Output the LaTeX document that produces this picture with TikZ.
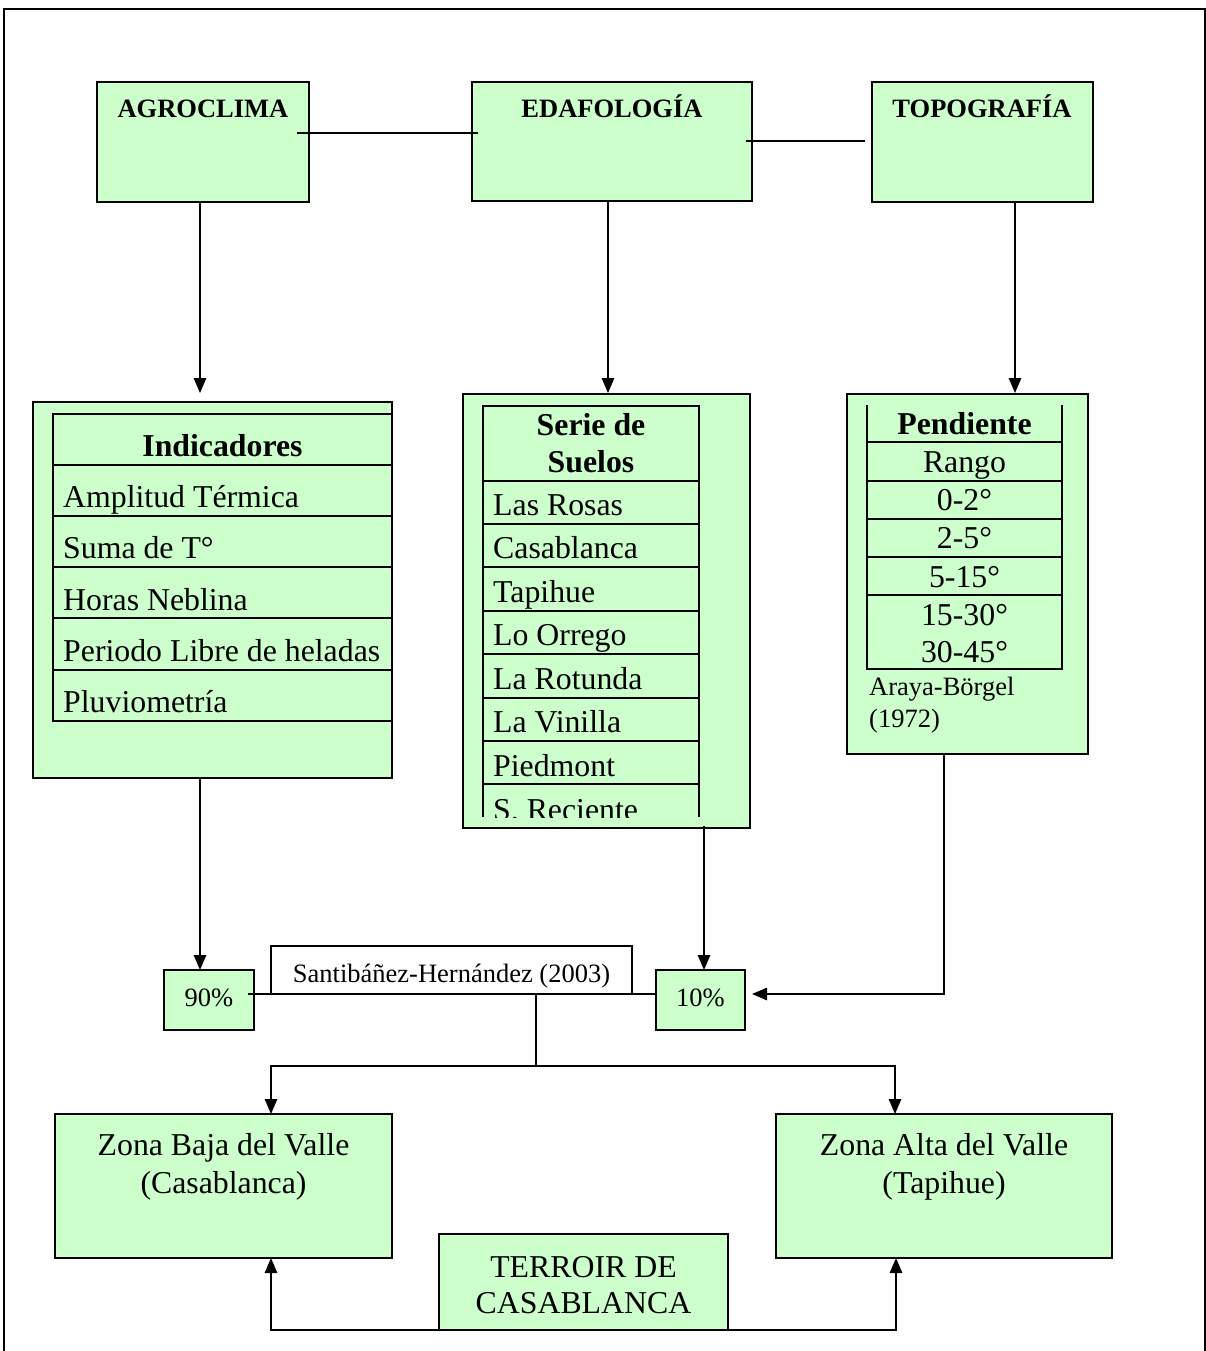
\documentclass[tikz,border=0pt]{standalone}
\usepackage{fontspec}
\setmainfont{Liberation Serif}
\usetikzlibrary{arrows.meta}
\definecolor{lgreen}{HTML}{CCFFCC}
\newcommand\fsm{\fontsize{26.5}{31}\selectfont}
\newcommand\fbg{\fontsize{31.8}{37}\selectfont}
\begin{document}
\begin{tikzpicture}[x=1pt,y=-1pt,
  gbox/.style={draw, line width=1.6pt, fill=lgreen, inner sep=0pt, outer sep=0pt, anchor=north west},
  wbox/.style={gbox, fill=white},
  tline/.style={line width=1.6pt},
  con/.style={line width=1.3pt},
  arr/.style={con, -{Triangle[length=15pt,width=12.5pt]}},
  lbl/.style={inner sep=0pt, anchor=base, font=\fsm},
  lbll/.style={inner sep=0pt, anchor=base west, font=\fsm},
  big/.style={inner sep=0pt, anchor=base, font=\fbg},
  bigl/.style={inner sep=0pt, anchor=base west, font=\fbg},
]
\useasboundingbox (0,0) rectangle (1206,1351);
% outer frame
\draw[line width=1.3pt] (4,1351) -- (4,9) -- (1205,9) -- (1205,1351);

% top boxes
\node[gbox, minimum width=212pt, minimum height=120pt] (agro) at (97,82) {};
\node[gbox, minimum width=280pt, minimum height=119pt] (edaf) at (472,82) {};
\node[gbox, minimum width=221pt, minimum height=120pt] (topo) at (872,82) {};
\node[lbl] (agrot) at (203,118) {\bfseries AGROCLIMA};
\node[lbl] (edaft) at (612,118) {\bfseries EDAFOLOGÍA};
\node[lbl] (topot) at (982,118) {\bfseries TOPOGRAFÍA};

% middle boxes
\node[gbox, minimum width=359pt, minimum height=376pt] (ind) at (33,402) {};
\node[gbox, minimum width=287pt, minimum height=434pt] (ser) at (463,394) {};
\node[gbox, minimum width=241pt, minimum height=360pt] (pen) at (847,394) {};

% Indicadores table
\draw[tline] (53,414) rectangle (392,721);
\foreach \yy in {465,516,567,618,670} \draw[tline] (53,\yy) -- (392,\yy);
\node[big] (indh) at (222.5,456) {\bfseries Indicadores};
\node[bigl] (i1) at (63,507) {Amplitud Térmica};
\node[bigl] (i2) at (63,558) {Suma de T°};
\node[bigl] (i3) at (63,610) {Horas Neblina};
\node[bigl] (i4) at (63,661) {Periodo Libre de heladas};
\node[bigl] (i5) at (63,712) {Pluviometría};

% Serie de suelos table
\draw[tline] (483,817) -- (483,406) -- (699,406) -- (699,817);
\foreach \yy in {481,524,567,611,654,698,741,784} \draw[tline] (483,\yy) -- (699,\yy);
\node[big] (serh1) at (591,435) {\bfseries Serie de};
\node[big] (serh2) at (591,472) {\bfseries Suelos};
\node[bigl] (s1) at (493,515) {Las Rosas};
\node[bigl] (s2) at (493,558) {Casablanca};
\node[bigl] (s3) at (493,602) {Tapihue};
\node[bigl] (s4) at (493,645) {Lo Orrego};
\node[bigl] (s5) at (493,689) {La Rotunda};
\node[bigl] (s6) at (493,732) {La Vinilla};
\node[bigl] (s7) at (493,776) {Piedmont};
\begin{scope}
\clip (483,784) rectangle (699,817);
\node[bigl] (s8) at (493,820) {S. Reciente};
\end{scope}

% Pendiente table
\draw[tline] (867,405) -- (867,669) -- (1062,669) -- (1062,405);
\foreach \yy in {442,481,519,557,595} \draw[tline] (867,\yy) -- (1062,\yy);
\node[big] (penh) at (964.5,434) {\bfseries Pendiente};
\node[big] (p1) at (964.5,472) {Rango};
\node[big] (p2) at (964.5,510) {0-2°};
\node[big] (p3) at (964.5,548) {2-5°};
\node[big] (p4) at (964.5,587) {5-15°};
\node[big] (p5) at (964.5,625) {15-30°};
\node[big] (p6) at (964.5,662) {30-45°};
\node[lbll] (ar1) at (869,695) {Araya-Börgel};
\node[lbll] (ar2) at (869,727) {(1972)};

% percentage boxes
\node[wbox, minimum width=361pt, minimum height=48pt] (santi) at (271,946) {};
\node[lbl] (santit) at (451.5,982) {Santibáñez-Hernández (2003)};
\node[gbox, minimum width=90pt, minimum height=60pt] (p90) at (164,970) {};
\node[lbl] (p90t) at (209,1006) {90\%};
\node[gbox, minimum width=89pt, minimum height=60pt] (p10) at (656,970) {};
\node[lbl] (p10t) at (700.5,1006) {10\%};

% bottom boxes
\node[gbox, minimum width=337pt, minimum height=144pt] (zbaja) at (55,1114) {};
\node[big] (zb1) at (223.5,1155) {Zona Baja del Valle};
\node[big] (zb2) at (223.5,1193) {(Casablanca)};
\node[gbox, minimum width=336pt, minimum height=144pt] (zalta) at (776,1114) {};
\node[big] (za1) at (944,1155) {Zona Alta del Valle};
\node[big] (za2) at (944,1193) {(Tapihue)};
\node[gbox, minimum width=289pt, minimum height=96pt] (terr) at (439,1234) {};
\node[big] (te1) at (583.5,1277) {TERROIR DE};
\node[big] (te2) at (583.5,1313) {CASABLANCA};

% connectors top
\coordinate (l1a) at (297,133);
\coordinate (l1b) at (478,133);
\draw[con] (l1a) -- (l1b);
\coordinate (l2a) at (746,141);
\coordinate (l2b) at (865,141);
\draw[con] (l2a) -- (l2b);
\draw[arr] (agro.south -| 200,0) -- (200,393);
\draw[arr] (edaf.south -| 608,0) -- (608,393);
\draw[arr] (topo.south -| 1015,0) -- (1015,393);

% connectors middle
\draw[arr] (ind.south -| 200,0) -- (p90.north -| 200,0);
\draw[arr] (704,826) -- (p10.north -| 704,0);
\draw[arr] (pen.south -| 944,0) |- (752,994);
\draw[con] (248,994) -- (p10.west |- 0,994);
\coordinate (split) at (536,1066);
\draw[con] (536,994) -- (split);
\draw[arr] (split) -| (zbaja.north -| 271,0);
\draw[arr] (split) -| (zalta.north -| 895,0);

% bottom connector
\coordinate (bj) at (583,1330);
\draw[arr] (bj) -| (zbaja.south -| 271,0);
\draw[arr] (bj) -| (zalta.south -| 896,0);
\end{tikzpicture}
\end{document}
